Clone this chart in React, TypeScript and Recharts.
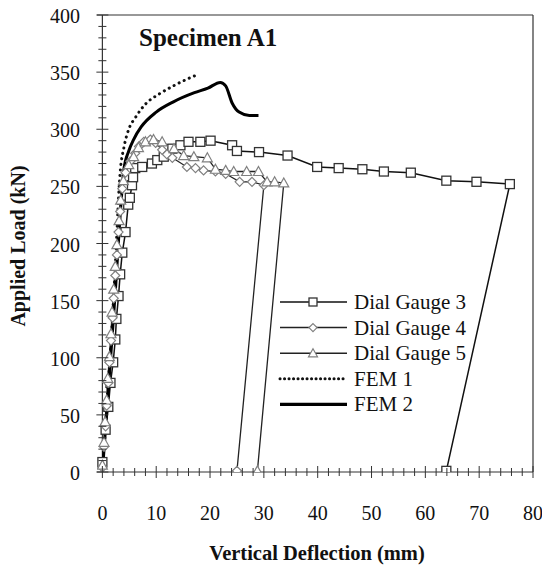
import React from 'react';
import { LineChart, Line, XAxis, YAxis, ReferenceLine } from 'recharts';

// deflection (mm), load (kN) pairs
const gauge3: [number, number][] = [
  [0, 8.7], [0.6, 37], [1.1, 57], [1.5, 78], [2.0, 96], [2.4, 116], [2.6, 134], [3.0, 154],
  [3.3, 173], [3.7, 192], [4.3, 210], [4.8, 234], [5.1, 240], [5.5, 251], [5.7, 258], [6.1, 266],
  [7.4, 267], [9.2, 270], [10.2, 273], [11.4, 276], [13.0, 283], [14.5, 286], [16.0, 289],
  [18.2, 289], [20.1, 290], [24.1, 286], [25.0, 281], [29.1, 280], [34.4, 277], [39.9, 267],
  [43.9, 266], [48.3, 265], [52.3, 263], [57.3, 262], [63.9, 255], [69.5, 254], [75.7, 252],
  [63.9, 1],
];

const gauge4: [number, number][] = [
  [0, 4], [0.3, 22], [0.6, 40], [0.8, 58], [1.1, 78], [1.3, 96], [1.6, 115], [1.9, 135],
  [2.1, 152], [2.4, 172], [2.7, 190], [3.0, 210], [3.3, 228], [3.7, 248], [4.3, 262], [5.2, 272],
  [6.1, 279], [6.8, 285], [7.7, 289], [8.9, 291], [9.9, 288], [11.1, 282], [12.0, 278],
  [13.0, 275], [15.7, 267], [17.3, 266], [18.8, 264], [21.0, 263], [22.9, 261], [25.5, 254],
  [27.8, 254], [30.0, 251], [25.0, 1],
];

const gauge5: [number, number][] = [
  [0, 6], [0.3, 26], [0.5, 44], [0.8, 63], [1.0, 82], [1.3, 101], [1.6, 121], [1.8, 140],
  [2.1, 160], [2.4, 180], [2.7, 199], [3.1, 220], [3.4, 238], [3.9, 255], [4.9, 269], [5.8, 276],
  [6.7, 284], [8.0, 289], [9.5, 291], [11.1, 289], [13.3, 283], [15.1, 277], [17.0, 276],
  [19.5, 275], [21.0, 265], [22.9, 264], [24.4, 263], [26.8, 263], [29.0, 263], [30.6, 254],
  [32.0, 254], [33.7, 253], [28.8, 1],
];

const fem1: [number, number][] = [
  [0, 0], [1, 70], [2, 145], [2.7, 210], [3.0, 240], [3.3, 262], [4.0, 284], [4.9, 300],
  [6.1, 310], [8.0, 322], [10.6, 331], [13.2, 338], [15.8, 344], [17.8, 348],
];

const fem2: [number, number][] = [
  [0, 0], [1, 65], [1.8, 118], [2.5, 165], [3.3, 225], [4.0, 265], [4.9, 281], [5.8, 291],
  [7.2, 302], [10.0, 315], [13.2, 324], [17.1, 332], [19.6, 336], [21.9, 341], [22.9, 338],
  [24.1, 323], [25.4, 315], [27.3, 312], [29.0, 312],
];

const xTicks = [
  0, 2, 4, 6, 8, 10, 12, 14, 16, 18, 20, 22, 24, 26, 28, 30, 32, 34, 36, 38, 40,
  42, 44, 46, 48, 50, 52, 54, 56, 58, 60, 62, 64, 66, 68, 70, 72, 74, 76, 78, 80,
];
const yTicks = [
  0, 10, 20, 30, 40, 50, 60, 70, 80, 90, 100, 110, 120, 130, 140, 150, 160, 170, 180, 190, 200,
  210, 220, 230, 240, 250, 260, 270, 280, 290, 300, 310, 320, 330, 340, 350, 360, 370, 380, 390, 400,
];
const seriesNames = ['Dial Gauge 3', 'Dial Gauge 4', 'Dial Gauge 5', 'FEM 1', 'FEM 2'];

const toPoints = (arr: [number, number][]) => arr.map(([x, y]) => ({ x, y }));

const SERIF = "'Liberation Serif', 'Times New Roman', serif";
const AXIS = '#333';
const Y_AXIS_SHIFT = 436 / 81; // x=0 sits one mm right of the plot edge

const XTick = (props: any) => {
  const { x, y, payload } = props;
  const major = payload.value % 10 === 0;
  const len = major ? 6 : 4;
  return (
    <g>
      <line x1={x} x2={x} y1={y - len} y2={y + len} stroke={AXIS} strokeWidth={1} />
      {major && (
        <text x={x} y={y + 48} textAnchor="middle" fontSize={20} fontFamily={SERIF} fill="#111">
          {payload.value}
        </text>
      )}
    </g>
  );
};

const YTick = (props: any) => {
  const { x, y, payload } = props;
  const major = payload.value % 50 === 0;
  const len = major ? 6 : 4;
  const ax = x + Y_AXIS_SHIFT;
  return (
    <g>
      <line x1={ax - len} x2={ax + len} y1={y} y2={y} stroke={AXIS} strokeWidth={1} />
      {major && (
        <text x={x - 17} y={y + 8} textAnchor="end" fontSize={20} fontFamily={SERIF} fill="#111">
          {payload.value}
        </text>
      )}
    </g>
  );
};

const square = (cx: number, cy: number, s: number, key?: any) => (
  <rect key={key} x={cx - s / 2} y={cy - s / 2} width={s} height={s} fill="#fff" stroke="#333" strokeWidth={1.3} />
);
const diamond = (cx: number, cy: number, s: number, key?: any) => (
  <polygon key={key} points={`${cx},${cy - s} ${cx + s},${cy} ${cx},${cy + s} ${cx - s},${cy}`}
    fill="#fff" stroke="#808080" strokeWidth={1.2} />
);
const triangle = (cx: number, cy: number, s: number, key?: any) => (
  <polygon key={key} points={`${cx},${cy - s} ${cx + s},${cy + s * 0.8} ${cx - s},${cy + s * 0.8}`}
    fill="#fff" stroke="#808080" strokeWidth={1.2} />
);

export default function App() {
  const legendRows = [
    { marker: (cx: number, cy: number) => square(cx, cy, 8), stroke: '#111', width: 1.5, dash: undefined },
    { marker: (cx: number, cy: number) => diamond(cx, cy, 4), stroke: '#222', width: 1.5, dash: undefined },
    { marker: (cx: number, cy: number) => triangle(cx, cy, 4.5), stroke: '#222', width: 1.5, dash: undefined },
    { marker: null, stroke: '#111', width: 3, dash: '0.1 4.4' },
    { marker: null, stroke: '#000', width: 3.2, dash: undefined },
  ];

  return (
    <div style={{ position: 'relative', width: 542, height: 568 }}>
      <style>{'body{margin:0;overflow:hidden;background:#fff}'}</style>
      <LineChart width={542} height={568} margin={{ top: 15, right: 9, left: 0, bottom: 0 }}>
        <XAxis
          type="number"
          dataKey="x"
          domain={[-1, 80]}
          ticks={xTicks}
          interval={0}
          allowDataOverflow
          height={96}
          tickSize={0}
          tickMargin={0}
          tickLine={false}
          axisLine={{ stroke: AXIS, strokeWidth: 1.2 }}
          tick={<XTick />}
        />
        <YAxis
          type="number"
          dataKey="y"
          domain={[0, 400]}
          ticks={yTicks}
          interval={0}
          allowDataOverflow
          width={97}
          tickSize={0}
          tickMargin={0}
          tickLine={false}
          axisLine={false}
          tick={<YTick />}
        />
        <ReferenceLine x={0} stroke={AXIS} strokeWidth={1.2} />
        <ReferenceLine y={400} stroke={AXIS} strokeWidth={1.2} />
        <ReferenceLine x={80} stroke={AXIS} strokeWidth={1.2} />

        <Line
          data={toPoints(gauge3)}
          dataKey="y"
          name={seriesNames[0]}
          type="linear"
          stroke="#111"
          strokeWidth={1.5}
          isAnimationActive={false}
          dot={(p: any) => square(p.cx, p.cy, 9, `g3-${p.index}`)}
        />
        <Line
          data={toPoints(gauge4)}
          dataKey="y"
          name={seriesNames[1]}
          type="linear"
          stroke="#222"
          strokeWidth={1.3}
          isAnimationActive={false}
          dot={(p: any) => diamond(p.cx, p.cy, 4.5, `g4-${p.index}`)}
        />
        <Line
          data={toPoints(gauge5)}
          dataKey="y"
          name={seriesNames[2]}
          type="linear"
          stroke="#222"
          strokeWidth={1.3}
          isAnimationActive={false}
          dot={(p: any) => triangle(p.cx, p.cy, 5, `g5-${p.index}`)}
        />
        <Line
          data={toPoints(fem1)}
          dataKey="y"
          name={seriesNames[3]}
          type="monotone"
          stroke="#111"
          strokeWidth={3}
          strokeDasharray="0.1 5.5"
          strokeLinecap="round"
          isAnimationActive={false}
          dot={false}
        />
        <Line
          data={toPoints(fem2)}
          dataKey="y"
          name={seriesNames[4]}
          type="monotone"
          stroke="#000"
          strokeWidth={3}
          isAnimationActive={false}
          dot={false}
        />
      </LineChart>

      <svg width={542} height={568} style={{ position: 'absolute', left: 0, top: 0, pointerEvents: 'none' }}>
        <text x={139} y={46} fontSize={25} fontWeight="bold" fontFamily={SERIF} fill="#111">
          Specimen A1
        </text>
        <text transform="translate(25,246) rotate(-90)" textAnchor="middle" fontSize={20} fontWeight="bold"
          fontFamily={SERIF} fill="#111">
          Applied Load (kN)
        </text>
        <text x={317} y={560} textAnchor="middle" fontSize={20.5} fontWeight="bold" fontFamily={SERIF} fill="#111">
          Vertical Deflection (mm)
        </text>
        {legendRows.map((r, i) => {
          const cy = 302 + i * 25.6;
          return (
            <g key={seriesNames[i]}>
              <line x1={280} x2={347} y1={cy} y2={cy} stroke={r.stroke} strokeWidth={r.width}
                strokeDasharray={r.dash} strokeLinecap={r.dash ? 'round' : 'butt'} />
              {r.marker && r.marker(313, cy)}
              <text x={354} y={cy + 7} fontSize={21} fontFamily={SERIF} fill="#111">
                {seriesNames[i]}
              </text>
            </g>
          );
        })}
      </svg>
    </div>
  );
}
